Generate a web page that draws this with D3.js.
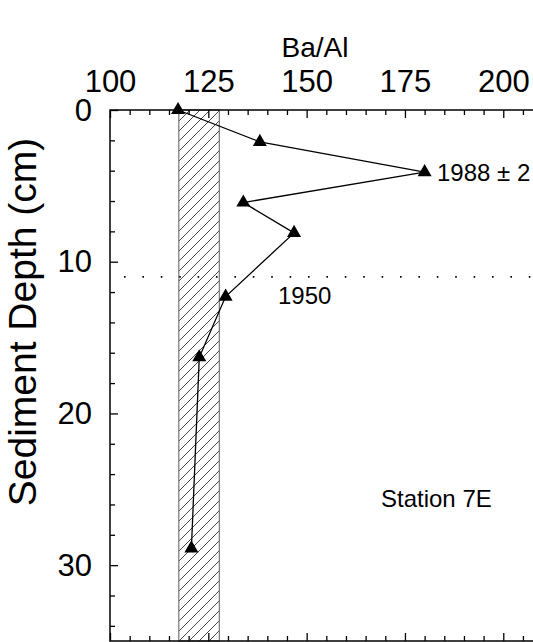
<!DOCTYPE html>
<html>
<head>
<meta charset="utf-8">
<script src="https://cdn.jsdelivr.net/npm/d3@7"></script>
<style>
  html, body { margin: 0; padding: 0; background: #fff; }
  svg { display: block; font-family: "Liberation Sans", Arial, sans-serif; }
</style>
</head>
<body>
<svg id="chart" width="533" height="642"></svg>
<script>
// ---- data ----
const baAl  = [117.3, 138.1, 180.0, 133.9, 146.8, 129.4, 122.7, 120.7];
const depth = [0.0,   2.1,   4.1,   6.1,   8.1,   12.3,  16.3,  28.9];
const xMajorTicks = [100, 125, 150, 175, 200];
const yMajorTicks = [0, 10, 20, 30];
const backgroundRange = [117.5, 127.8];   // hatched background band
const year1950Depth = [11.0];
const annotations = ["1988 \u00B1 2", "1950", "Station 7E"];
const axisTitles = ["Ba/Al", "Sediment Depth (cm)"];

const svg = d3.select("#chart");
const x = d3.scaleLinear().domain([100, 210]).range([110, 542.6]);
const y = d3.scaleLinear().domain([0, 35]).range([110, 641]);

// hatch pattern
const defs = svg.append("defs");
const pat = defs.append("pattern")
  .attr("id", "hatch").attr("patternUnits", "userSpaceOnUse")
  .attr("width", 10).attr("height", 10);
pat.append("path")
  .attr("d", "M-2,2 L2,-2 M0,10 L10,0 M8,12 L12,8")
  .attr("stroke", "#333").attr("stroke-width", 0.9);

svg.append("rect")
  .attr("x", x(backgroundRange[0])).attr("y", y(0))
  .attr("width", x(backgroundRange[1]) - x(backgroundRange[0]))
  .attr("height", y(35) - y(0))
  .attr("fill", "url(#hatch)")
  .attr("stroke", "#777").attr("stroke-width", 1.2);

// minor tick values
const xMinor = d3.range(100, 211, 5).filter(v => !xMajorTicks.includes(v));
const yMinor = d3.range(0, 35.1, 2).filter(v => !yMajorTicks.includes(v));

// top axis
const gTop = svg.append("g").attr("transform", `translate(0,${y(0)})`);
gTop.call(d3.axisTop(x).tickValues(xMajorTicks).tickSize(-8).tickPadding(18)
  .tickFormat(d3.format("d")));
gTop.append("g").call(d3.axisTop(x).tickValues(xMinor).tickSize(-5).tickFormat(""));
// bottom axis (ticks pointing up)
const gBot = svg.append("g").attr("transform", `translate(0,${y(35)})`);
gBot.call(d3.axisBottom(x).tickValues(xMajorTicks).tickSize(-8).tickFormat(""));
gBot.append("g").call(d3.axisBottom(x).tickValues(xMinor).tickSize(-5).tickFormat(""));
// left axis
const gLeft = svg.append("g").attr("transform", `translate(${x(100)},0)`);
gLeft.call(d3.axisLeft(y).tickValues(yMajorTicks).tickSize(-8).tickPadding(18)
  .tickFormat(d3.format("d")));
gLeft.append("g").call(d3.axisLeft(y).tickValues(yMinor).tickSize(-5).tickFormat(""));

svg.selectAll(".domain").remove();
svg.selectAll(".tick line").attr("stroke", "#000").attr("stroke-width", 1.3);
svg.selectAll(".tick text").attr("font-size", 31).attr("fill", "#000")
  .attr("font-family", "Liberation Sans, Arial, sans-serif");
gLeft.selectAll(".tick text").attr("dy", "0.33em");

// frame
svg.append("path")
  .attr("d", `M${x(210)},${y(0)} H${x(100)} V${y(35)} H${x(210)}`)
  .attr("fill", "none").attr("stroke", "#000").attr("stroke-width", 1.5);

// 1950 dotted line
svg.selectAll(".dotline").data(year1950Depth).enter().append("line")
  .attr("x1", 124).attr("x2", x(210))
  .attr("y1", d => y(d)).attr("y2", d => y(d))
  .attr("stroke", "#000").attr("stroke-width", 1.6)
  .attr("stroke-dasharray", "1.6,16.8");

// data line
const pts = baAl.map((v, i) => [v, depth[i]]);
svg.append("path").datum(pts)
  .attr("d", d3.line().x(d => x(d[0])).y(d => y(d[1])))
  .attr("fill", "none").attr("stroke", "#000").attr("stroke-width", 1.3);

svg.selectAll(".pt").data(pts).enter().append("path")
  .attr("transform", d => `translate(${x(d[0])},${y(d[1])})`)
  .attr("d", d3.symbol(d3.symbolTriangle, 85))
  .attr("fill", "#000");

// annotations
svg.append("text").attr("x", 437).attr("y", 181).attr("font-size", 24)
  .text(annotations[0]);
svg.append("text").attr("x", 278).attr("y", 304).attr("font-size", 24)
  .text(annotations[1]);
svg.append("text").attr("x", 381).attr("y", 507).attr("font-size", 24)
  .text(annotations[2]);

// axis titles
svg.append("text").attr("x", 315).attr("y", 57).attr("text-anchor", "middle")
  .attr("font-size", 28).text(axisTitles[0]);
svg.append("text").attr("transform", "translate(36,322) rotate(-90)")
  .attr("text-anchor", "middle").attr("font-size", 39).text(axisTitles[1]);
</script>
</body>
</html>
